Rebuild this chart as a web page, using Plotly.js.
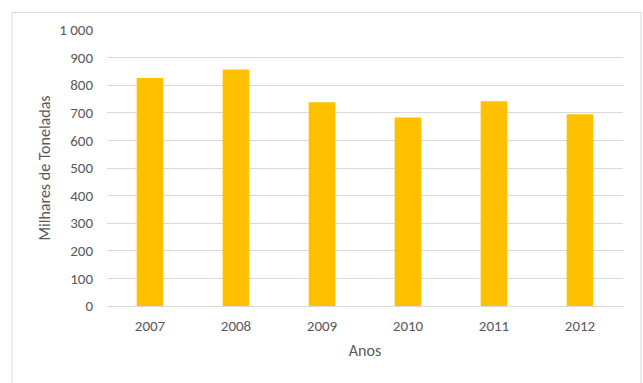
<!DOCTYPE html>
<html>
<head>
<meta charset="utf-8">
<script src="https://cdn.plot.ly/plotly-3.0.1.min.js"></script>
<style>
html,body{margin:0;padding:0;background:#fff;}
#chart{width:643px;height:383px;}
</style>
</head>
<body>
<div id="chart"></div>
<script>
const anos = ["2007", "2008", "2009", "2010", "2011", "2012"];
const milharesToneladas = [826, 857, 738, 683, 742, 695];
const yTicks = [0, 100, 200, 300, 400, 500, 600, 700, 800, 900, 1000];

const font = "Carlito, 'Open Sans', sans-serif";
const textColor = "#595959";

const trace = {
  type: "bar",
  x: anos,
  y: milharesToneladas,
  marker: {color: "#FFC000"},
  width: 0.31,
  hoverinfo: "x+y"
};

const layout = {
  width: 643,
  height: 383,
  margin: {l: 107, r: 20, t: 29.5, b: 77, pad: 0},
  paper_bgcolor: "#ffffff",
  plot_bgcolor: "#ffffff",
  separators: ", ",
  showlegend: false,
  font: {family: font, size: 15, color: textColor},
  xaxis: {
    type: "category",
    showgrid: false,
    zeroline: false,
    showline: true,
    linecolor: "#D9D9D9",
    linewidth: 1,
    ticks: "outside",
    ticklen: 6,
    tickcolor: "rgba(0,0,0,0)",
    tickfont: {family: font, size: 15, color: textColor},
    title: {text: "Anos", font: {family: font, size: 16, color: textColor}, standoff: 10}
  },
  yaxis: {
    range: [0, 1000],
    tickvals: yTicks,
    tickformat: ",d",
    separatethousands: true,
    showgrid: true,
    gridcolor: "#D9D9D9",
    gridwidth: 1,
    zeroline: false,
    showline: false,
    ticks: "outside",
    ticklen: 10,
    tickcolor: "rgba(0,0,0,0)",
    tickfont: {family: font, size: 15, color: textColor},
    title: {text: "Milhares de Toneladas", font: {family: font, size: 16, color: textColor}, standoff: 4}
  },
  shapes: [{
    type: "rect",
    xref: "paper", yref: "paper",
    x0: -0.184, x1: 1.035, y0: -0.35, y1: 1.063,
    line: {color: "#D9D9D9", width: 1},
    fillcolor: "rgba(0,0,0,0)",
    layer: "below"
  }]
};

Plotly.newPlot("chart", [trace], layout, {displayModeBar: false, staticPlot: true});
</script>
</body>
</html>
